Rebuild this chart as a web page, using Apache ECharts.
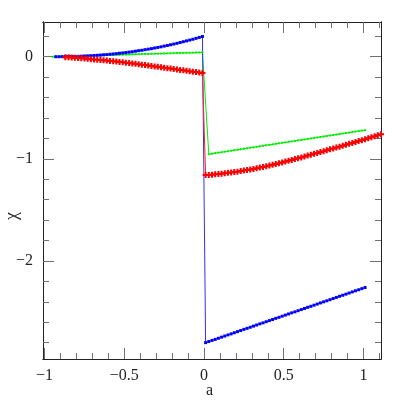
<!DOCTYPE html>
<html><head><meta charset="utf-8">
<script src="https://cdn.jsdelivr.net/npm/echarts@6/dist/echarts.min.js"></script>
<style>html,body{margin:0;padding:0;background:#fff}#c{width:402px;height:402px}</style>
</head><body><div id="c"></div>
<script>
// x samples: left branch (-0.97 .. -0.01) and right branch (0.01 .. 1.11), step 0.02
const aLeft = [-0.97,-0.95,-0.93,-0.91,-0.89,-0.87,-0.85,-0.83,-0.81,-0.79,-0.77,-0.75,-0.73,-0.71,-0.69,-0.67,-0.65,-0.63,-0.61,-0.59,-0.57,-0.55,-0.53,-0.51,-0.49,-0.47,-0.45,-0.43,-0.41,-0.39,-0.37,-0.35,-0.33,-0.31,-0.29,-0.27,-0.25,-0.23,-0.21,-0.19,-0.17,-0.15,-0.13,-0.11,-0.09,-0.07,-0.05,-0.03,-0.01];
const aRight = [0.01,0.03,0.05,0.07,0.09,0.11,0.13,0.15,0.17,0.19,0.21,0.23,0.25,0.27,0.29,0.31,0.33,0.35,0.37,0.39,0.41,0.43,0.45,0.47,0.49,0.51,0.53,0.55,0.57,0.59,0.61,0.63,0.65,0.67,0.69,0.71,0.73,0.75,0.77,0.79,0.81,0.83,0.85,0.87,0.89,0.91,0.93,0.95,0.97,0.99,1.01,1.03,1.05,1.07,1.09,1.11];

const blueLeft = [null,null,0.000,0.000,0.001,0.001,0.001,0.002,0.003,0.004,0.005,0.007,0.008,0.010,0.012,0.014,0.016,0.019,0.021,0.024,0.027,0.030,0.034,0.037,0.041,0.045,0.049,0.054,0.059,0.063,0.069,0.074,0.079,0.085,0.091,0.097,0.104,0.110,0.117,0.124,0.131,0.139,0.147,0.155,0.163,0.171,0.180,0.189,0.198];
const greenLeft = [null,0.000,0.001,0.002,0.003,0.004,0.005,0.005,0.006,0.007,0.008,0.009,0.010,0.011,0.012,0.013,0.014,0.015,0.016,0.016,0.017,0.018,0.019,0.020,0.021,0.022,0.023,0.024,0.025,0.026,0.027,0.027,0.028,0.029,0.030,0.031,0.032,0.033,0.034,0.035,0.036,0.037,0.038,0.038,0.039,0.040,0.041,0.042,0.043];
const redLeft = [null,null,null,null,null,-0.004,-0.006,-0.008,-0.011,-0.013,-0.016,-0.018,-0.021,-0.024,-0.026,-0.029,-0.032,-0.035,-0.038,-0.042,-0.045,-0.048,-0.052,-0.055,-0.059,-0.062,-0.066,-0.070,-0.074,-0.078,-0.082,-0.086,-0.091,-0.095,-0.099,-0.103,-0.107,-0.112,-0.116,-0.120,-0.125,-0.129,-0.133,-0.138,-0.142,-0.146,-0.150,-0.155,-0.159];

const blueRight = [-2.800,-2.789,-2.778,-2.768,-2.757,-2.746,-2.735,-2.724,-2.714,-2.703,-2.692,-2.681,-2.670,-2.660,-2.649,-2.638,-2.627,-2.616,-2.606,-2.595,-2.584,-2.573,-2.562,-2.552,-2.541,-2.530,-2.519,-2.508,-2.498,-2.487,-2.476,-2.465,-2.454,-2.444,-2.433,-2.422,-2.411,-2.400,-2.390,-2.379,-2.368,-2.357,-2.346,-2.336,-2.325,-2.314,-2.303,-2.292,-2.282,-2.271,-2.260,null,null,null,null,null];
const greenRight = [null,-0.954,-0.949,-0.944,-0.939,-0.935,-0.930,-0.925,-0.920,-0.915,-0.911,-0.906,-0.901,-0.896,-0.891,-0.887,-0.882,-0.877,-0.872,-0.867,-0.863,-0.858,-0.853,-0.848,-0.843,-0.839,-0.834,-0.829,-0.824,-0.819,-0.815,-0.810,-0.805,-0.800,-0.795,-0.791,-0.786,-0.781,-0.776,-0.771,-0.767,-0.762,-0.757,-0.752,-0.747,-0.743,-0.738,-0.733,-0.728,-0.723,-0.719,null,null,null,null,null];
const redRight = [-1.159,-1.157,-1.155,-1.152,-1.149,-1.145,-1.141,-1.137,-1.134,-1.130,-1.126,-1.120,-1.115,-1.110,-1.105,-1.099,-1.092,-1.086,-1.079,-1.072,-1.065,-1.058,-1.050,-1.042,-1.035,-1.027,-1.019,-1.011,-1.002,-0.994,-0.986,-0.977,-0.968,-0.960,-0.951,-0.943,-0.934,-0.925,-0.916,-0.907,-0.899,-0.890,-0.881,-0.872,-0.863,-0.853,-0.844,-0.835,-0.826,-0.817,-0.807,-0.798,-0.788,-0.779,-0.770,-0.760];

const xMajor = [-1,-0.5,0,0.5,1];
const xMinor = [-0.9,-0.8,-0.7,-0.6,-0.4,-0.3,-0.2,-0.1,0.1,0.2,0.3,0.4,0.6,0.7,0.8,0.9,1.1];
const yMajor = [-2,-1,0];
const yMinor = [-2.8,-2.6,-2.4,-2.2,-1.8,-1.6,-1.4,-1.2,-0.8,-0.6,-0.4,-0.2,0.2];
const xLabels = {"-1":"−1","-0.5":"−0.5","0":"0","0.5":"0.5","1":"1"};
const yLabels = {"-2":"−2","-1":"−1","0":"0"};

function pairs(xs, left, xs2, right){
  const out=[];
  xs.forEach((x,i)=>{ if(left[i]!==null) out.push([x,left[i]]); });
  xs2.forEach((x,i)=>{ if(right[i]!==null) out.push([x,right[i]]); });
  return out;
}

const FONT = "Liberation Serif";
const tickColor = '#707070';
function xAx(pos, vals, len, labels){
  return {type:'value', position:pos, min:-1.01, max:1.11, scale:true,
    axisLine:{show:true, onZero:false, lineStyle:{color:'#222', width:1}},
    splitLine:{show:false},
    axisTick:{show:true, inside:true, length:len, customValues:vals, lineStyle:{color:tickColor,width:1}},
    axisLabel: labels ? {show:true, customValues:xMajor, margin:9, fontFamily:FONT, fontSize:16, color:'#222',
       formatter:v=>xLabels[String(Math.round(v*10)/10)] ?? ''} : {show:false}};
}
function yAx(pos, vals, len, labels){
  return {type:'value', position:pos, min:-2.96, max:0.34, scale:true,
    axisLine:{show:true, onZero:false, lineStyle:{color:'#222', width:1}},
    splitLine:{show:false},
    axisTick:{show:true, inside:true, length:len, customValues:vals, lineStyle:{color:tickColor,width:1}},
    axisLabel: labels ? {show:true, customValues:yMajor, margin:10, fontFamily:FONT, fontSize:16, color:'#222',
       formatter:v=>yLabels[String(Math.round(v))] ?? ''} : {show:false}};
}

const plusPath = 'path://M2,0H4V2H6V4H4V6H2V4H0V2H2Z';
const chart = echarts.init(document.getElementById('c'), null, {renderer:'canvas'});
chart.setOption({
  animation:false,
  backgroundColor:'#fff',
  grid:{left:43, right:21, top:22, bottom:43, containLabel:false},
  xAxis:[xAx('bottom', xMajor, 11, true), xAx('bottom', xMinor, 6, false), xAx('top', xMajor, 11, false), xAx('top', xMinor, 6, false)],
  yAxis:[yAx('left', yMajor, 11, true), yAx('left', yMinor, 6, false), yAx('right', yMajor, 11, false), yAx('right', yMinor, 6, false)],
  graphic:[
    {type:'text', left:206, top:383, style:{text:'a', font:'16px "Liberation Serif"', fill:'#222'}},
    {type:'text', x:3, y:220, rotation:Math.PI/2, style:{text:'χ', font:'18px "Liberation Serif"', fill:'#222'}}
  ],
  series:[
    {type:'line', name:'green', xAxisIndex:0, yAxisIndex:0, data:pairs(aLeft,greenLeft,aRight,greenRight),
      symbol:'rect', symbolSize:2, showSymbol:true, itemStyle:{color:'#00ee00'}, lineStyle:{color:'#00ee00', width:1}, clip:true},
    {type:'line', name:'blue', xAxisIndex:0, yAxisIndex:0, data:pairs(aLeft,blueLeft,aRight,blueRight),
      symbol:'rect', symbolSize:3, showSymbol:true, itemStyle:{color:'#0000ff'}, lineStyle:{color:'#3030ff', width:1}, clip:true},
    {type:'line', name:'red', xAxisIndex:0, yAxisIndex:0, data:pairs(aLeft,redLeft,aRight,redRight),
      symbol:plusPath, symbolSize:6, showSymbol:true, itemStyle:{color:'#ff0000'}, lineStyle:{color:'#ff2020', width:1}, clip:true}
  ]
});
</script></body></html>
